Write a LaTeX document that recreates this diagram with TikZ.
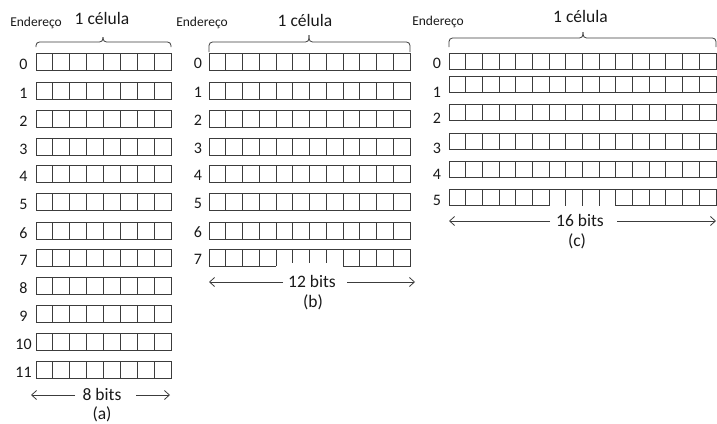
\documentclass[tikz,border=0pt]{standalone}
\usepackage{fontspec}
\setmainfont{Carlito}
\usetikzlibrary{arrows.meta}
\definecolor{ln}{RGB}{60,60,60}
\definecolor{tx}{RGB}{25,25,25}
\tikzset{
  cellline/.style={draw=ln, line width=0.9pt},
  lbl/.style={font=\fontsize{16}{16}\selectfont, text=tx, inner sep=0pt, anchor=base},
  big/.style={font=\fontsize{17.5}{18}\selectfont, text=tx, inner sep=0pt, anchor=base},
  small/.style={font=\fontsize{13.5}{14}\selectfont, text=tx, inner sep=0pt, anchor=base},
  dim/.style={draw=ln, line width=0.8pt, -{Straight Barb[length=5pt,width=9pt]}},
  bracep/.style={draw=ln, line width=0.8pt, rounded corners=3.5pt},
}
\begin{document}
\begin{tikzpicture}[x=1pt,y=-1pt]
\useasboundingbox (0,0) rectangle (717,423);

% ---------------- panel (a) ----------------
\node[small] (enda) at (36,26) {Endereço};
\node[big] (cela) at (102,24) {1 célula};
\draw[bracep] (36,47) -- (36,42) -- (103,42) -- (103,37);
\draw[bracep] (171,47) -- (171,42) -- (103,42) -- (103,37);
\foreach \r/\t in {0/53,1/82,2/110,3/138,4/165,5/193,6/222,7/249,8/277,9/305,10/333,11/361} {
  \draw[cellline] (36,\t) rectangle (171,\t+17);
  \foreach \k in {1,...,7} \draw[cellline] ({36+\k*16.875},\t) -- ++(0,17);
  \node[lbl] (la\r) at (23.5,\t+16) {\r};
}
\node[big, anchor=center] (bitsa) at (102,394) {8 bits};
\coordinate (aL) at (31,395);
\coordinate (aR) at (170,395);
\coordinate (aL1) at (75,395);
\coordinate (aR1) at (136,395);
\draw[dim] (aL1) -- (aL);
\draw[dim] (aR1) -- (aR);
\node[big] (capa) at (102,419) {(a)};

% ---------------- panel (b) ----------------
\node[small] (endb) at (202,26) {Endereço};
\node[big] (celb) at (305,26.5) {1 célula};
\draw[bracep] (209,52) -- (209,42) -- (309,42) -- (309,35);
\draw[bracep] (410,52) -- (410,42) -- (309,42) -- (309,35);
\foreach \r/\t in {0/53,1/82,2/110,3/138,4/165,5/193,6/222} {
  \draw[cellline] (209,\t) rectangle (410,\t+17);
  \foreach \k in {1,...,11} \draw[cellline] ({209+\k*16.75},\t) -- ++(0,17);
  \node[lbl] (lb\r) at (198,\t+15.5) {\r};
}
% row 7 with open middle
\draw[cellline] (209,249) -- (410,249);
\draw[cellline] (276,266) -- (209,266) -- (209,249);
\draw[cellline] (343,266) -- (410,266) -- (410,249);
\foreach \k in {1,...,4} \draw[cellline] ({209+\k*16.75},249) -- ++(0,17);
\foreach \k in {8,...,11} \draw[cellline] ({209+\k*16.75},249) -- ++(0,17);
\foreach \k in {5,6,7} \draw[cellline] ({209+\k*16.75},249) -- ++(0,14);
\node[lbl] (lb7) at (198,264.5) {7};
\node[big, anchor=center] (bitsb) at (312,281) {12 bits};
\coordinate (bL) at (209,282);
\coordinate (bR) at (415,282);
\coordinate (bL1) at (283,282);
\coordinate (bR1) at (347,282);
\draw[dim] (bL1) -- (bL);
\draw[dim] (bR1) -- (bR);
\node[big, anchor=center] (capb) at (313,302) {(b)};

% ---------------- panel (c) ----------------
\node[small] (endc) at (438,25) {Endereço};
\node[big] (celc) at (580.5,22.5) {1 célula};
\draw[bracep] (449,47) -- (449,38) -- (583,38) -- (583,32);
\draw[bracep] (716,47) -- (716,38) -- (583,38) -- (583,32);
\foreach \r/\t/\b in {0/53/68,1/76/97,2/104/123,3/133/153,4/161/179} {
  \draw[cellline] (449,\t) rectangle (716,\t+16.5);
  \foreach \k in {1,...,15} \draw[cellline] ({449+\k*16.6875},\t) -- ++(0,16.5);
  \node[lbl] (lc\r) at (437,\b) {\r};
}
% row 5 with open middle
\draw[cellline] (449,189) -- (716,189);
\draw[cellline] (549.1,205.5) -- (449,205.5) -- (449,189);
\draw[cellline] (615.8,205.5) -- (716,205.5) -- (716,189);
\foreach \k in {1,...,15} \draw[cellline] ({449+\k*16.6875},189) -- ++(0,16.5);
\node[lbl] (lc5) at (437,205) {5};
\node[big, anchor=center] (bitsc) at (580,220) {16 bits};
\coordinate (cL) at (449,221);
\coordinate (cR) at (716,221);
\coordinate (cL1) at (550,221);
\coordinate (cR1) at (617,221);
\draw[dim] (cL1) -- (cL);
\draw[dim] (cR1) -- (cR);
\node[big, anchor=center] (capc) at (577,241) {(c)};
\end{tikzpicture}
\end{document}
